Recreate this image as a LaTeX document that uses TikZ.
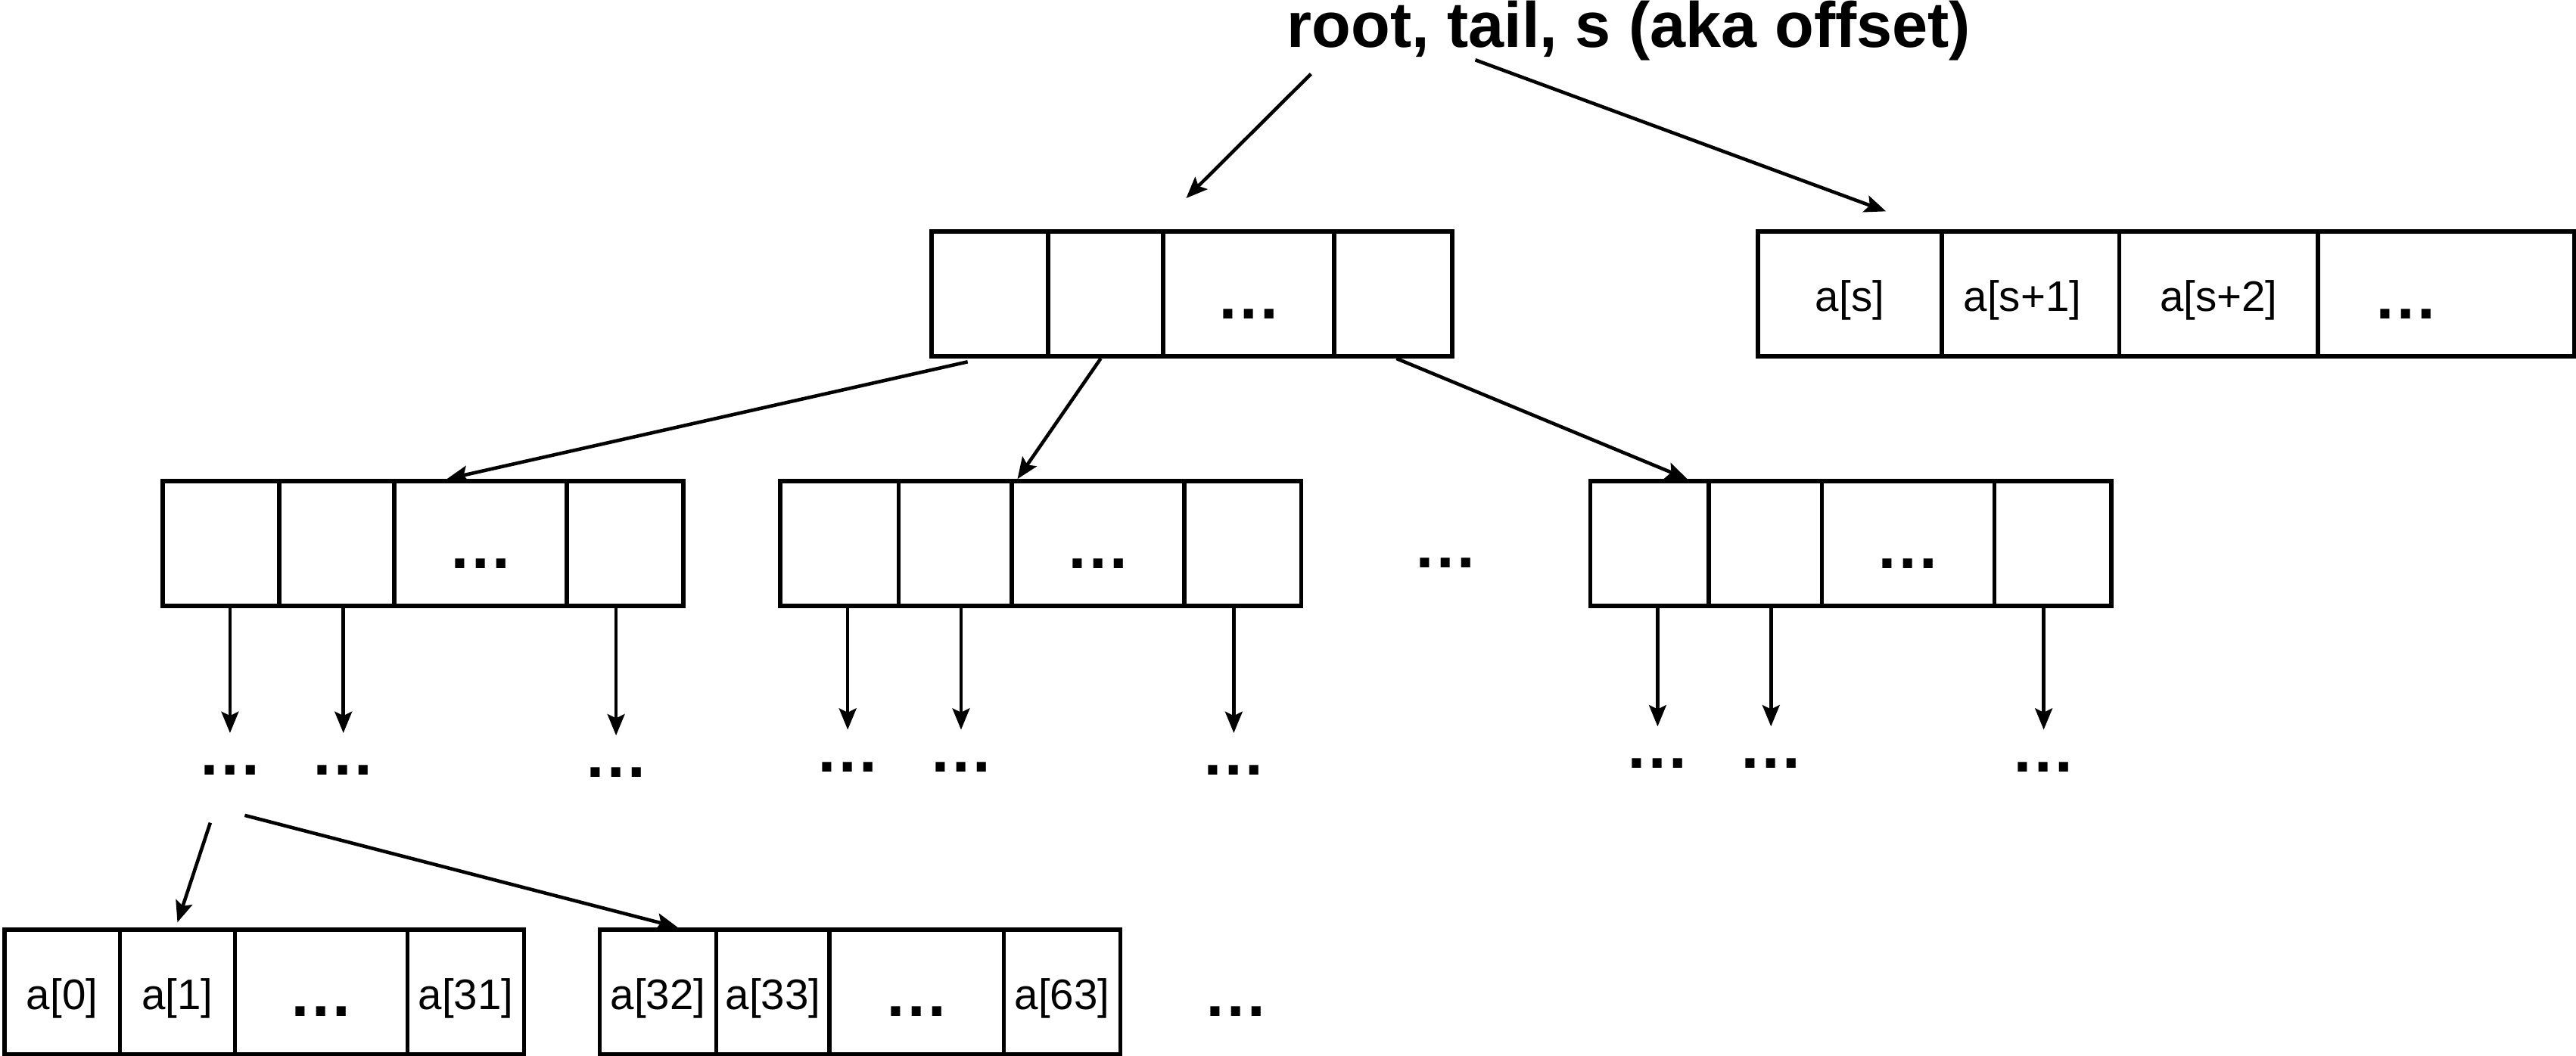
\documentclass[tikz,border=0pt]{standalone}
\usepackage{fontspec}
\setmainfont{Liberation Sans}
\usetikzlibrary{arrows.meta}
\begin{document}
\begin{tikzpicture}[x=0.1mm,y=-0.1mm,
 cell/.style={draw, line width=0.75pt, inner sep=0pt, minimum height=7.6mm, font=\fontsize{7.4}{8}\selectfont, text height=2.1mm, text depth=0pt},
 dcell/.style={cell, font=\fontsize{11.2}{12}\selectfont\bfseries, text height=3mm},
 dots/.style={inner sep=0pt, font=\fontsize{11.2}{12}\selectfont\bfseries},
 arr/.style={line width=0.6pt, -{Stealth[length=1.3mm,width=1.05mm,inset=0.25mm]}}]
\useasboundingbox (0,0) rectangle (1568,643);

% title
\node[font=\fontsize{11.1}{12}\selectfont\bfseries, anchor=base, inner sep=0pt] (title) at (991.5,29) {root, tail, s (aka offset)};
\coordinate (s1) at (798,45);
\coordinate (s2) at (898,36.5);

% root
\node[cell, minimum width=7.1mm] (R1) at (602.5,179) {};
\node[cell, minimum width=7.0mm] (R2) at (673,179) {};
\node[dcell, minimum width=10.4mm] (R3) at (760,179) {…};
\node[cell, minimum width=7.2mm] (R4) at (848,179) {};

% tail
\node[cell, minimum width=11.2mm] (T1) at (1126,179) {a[s]};
\node[cell, minimum width=10.8mm] (T2) at (1236,179) {a[s+1]\hspace*{1mm}};
\node[cell, minimum width=12.1mm] (T3) at (1350.5,179) {a[s+2]};
\node[dcell, minimum width=15.6mm] (T4) at (1489,179) {…\hspace*{4.9mm}};

% level 2
\node[cell, minimum width=7.1mm] (A1) at (134.5,331) {};
\node[cell, minimum width=7.0mm] (A2) at (205,331) {};
\node[dcell, minimum width=10.5mm] (A3) at (292.5,331) {…};
\node[cell, minimum width=7.1mm] (A4) at (380.5,331) {};

\node[cell, minimum width=7.2mm] (B1) at (511,331) {};
\node[cell, minimum width=6.9mm] (B2) at (581.5,331) {};
\node[dcell, minimum width=10.5mm] (B3) at (668.5,331) {…};
\node[cell, minimum width=7.1mm] (B4) at (756.5,331) {};

\node[dots] (mid) at (880,343) {…};

\node[cell, minimum width=7.2mm] (C1) at (1004,331) {};
\node[cell, minimum width=6.9mm] (C2) at (1074.5,331) {};
\node[dcell, minimum width=10.5mm] (C3) at (1161.5,331) {…};
\node[cell, minimum width=7.1mm] (C4) at (1249.5,331) {};

% level 3 dots
\node[dots] (dA1) at (140,469) {…};
\node[dots] (dA2) at (209,469) {…};
\node[dots] (dA4) at (375,470.5) {…};
\node[dots] (dB1) at (516,467) {…};
\node[dots] (dB2) at (585,467) {…};
\node[dots] (dB4) at (751,469) {…};
\node[dots] (dC1) at (1009,465) {…};
\node[dots] (dC2) at (1078,465) {…};
\node[dots] (dC4) at (1244,467) {…};
\coordinate (b1) at (128,501);
\coordinate (b2) at (149,496.5);

% leaves
\node[cell, minimum width=7.04mm] (D1) at (37.8,604) {a[0]};
\node[cell, minimum width=7.0mm] (D2) at (108,604) {a[1]};
\node[dcell, minimum width=10.5mm] (D3) at (195.5,604) {…};
\node[cell, minimum width=7.1mm] (D4) at (283.5,604) {a[31]};

\node[cell, minimum width=7.1mm] (E1) at (400.5,604) {a[32]};
\node[cell, minimum width=6.9mm] (E2) at (470.5,604) {a[33]};
\node[dcell, minimum width=10.6mm] (E3) at (558,604) {…};
\node[cell, minimum width=7.1mm] (E4) at (646.5,604) {a[63]};

\node[dots] (leafdots) at (752.5,616) {…};

% connectors
\draw[arr] (s1) -- ([xshift=-3.8mm,yshift=1.9mm]R3.north);
\draw[arr] (s2) -- ([xshift=2.2mm,yshift=1.1mm]T1.north);

\draw[arr] ([xshift=-1.35mm,yshift=-0.2mm]R1.south) -- ([xshift=-2.05mm]A3.north);
\draw[arr] ([xshift=-0.3mm]R2.south) -- ([xshift=0.2mm]B2.north east);
\draw[arr] ([xshift=0.2mm]R4.south) -- ([xshift=2.3mm]C1.north);

\foreach \c/\d in {A1/dA1,A2/dA2,A4/dA4,B1/dB1,B2/dB2,B4/dB4,C1/dC1,C2/dC2,C4/dC4}
  \draw[arr] (\c.south -| \d) -- ([yshift=1.9mm]\d.north);

\draw[arr] (b1) -- ([yshift=0.3mm]D2.north);
\draw[arr] (b2) -- ([xshift=1.2mm]E1.north);
\end{tikzpicture}
\end{document}
